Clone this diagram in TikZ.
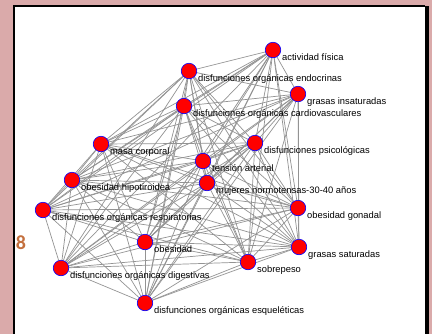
\documentclass[tikz,border=0pt]{standalone}
\usepackage{fontspec}
\setmainfont{Liberation Sans}
\newfontfamily\cifra{Carlito}
\usetikzlibrary{backgrounds}
\definecolor{rosa}{RGB}{218,170,170}
\definecolor{cobre}{RGB}{196,112,62}

\begin{document}
\begin{tikzpicture}[x=1bp,y=-1bp,
  vertice/.style={circle,fill=red,draw=blue,line width=0.6bp,minimum size=15.5bp,inner sep=0pt},
  etiqueta/.style={anchor=base west,inner sep=0pt,font=\fontsize{9.4}{11}\selectfont},
  arista/.style={draw=gray!85,line width=0.7bp}]
\useasboundingbox (0,0) rectangle (432,334);
\foreach \n/\x/\y/\t in {af/273/50/actividad física,
  en/189/71/disfunciones orgánicas endocrinas,
  gi/298/94/grasas insaturadas,
  cv/184/106/disfunciones orgánicas cardiovasculares,
  mc/101/144/masa corporal,
  ps/255/143/disfunciones psicológicas,
  ta/203/161/tensión arterial,
  mn/207/183/mujeres normotensas-30-40 años,
  oh/72/180/obesidad hipotiroidea,
  re/43/210/disfunciones orgánicas respiratorias,
  og/298/208/obesidad gonadal,
  ob/145/242/obesidad,
  gs/299/247/grasas saturadas,
  sp/248/262/sobrepeso,
  di/61/268/disfunciones orgánicas digestivas,
  es/145/303/disfunciones orgánicas esqueléticas}{
  \node[vertice] (\n) at (\x,\y) {};
  \node[etiqueta] (\n-t) at (\x+9,\y+10.5) {\t};
}
\begin{scope}[on background layer]
\fill[rosa] (0,0) rectangle (432,334);
\fill[white] (14,6) rectangle (427,334);
\draw[line width=2bp] (14,334) -- (14,6) -- (425,6);
\fill[black] (425,6) rectangle (429,334);
\node[text=cobre,font=\cifra\bfseries\fontsize{20}{20}\selectfont] (ocho) at (21,243) {8};
\foreach \a [count=\i] in {af,en,gi,cv,mc,ps,ta,mn,oh,re,og,ob,gs,sp,di,es}{
  \foreach \b [count=\j] in {af,en,gi,cv,mc,ps,ta,mn,oh,re,og,ob,gs,sp,di,es}{
    \ifnum\j>\i \draw[arista] (\a) -- (\b); \fi
  }
}
\end{scope}
\end{tikzpicture}
\end{document}
